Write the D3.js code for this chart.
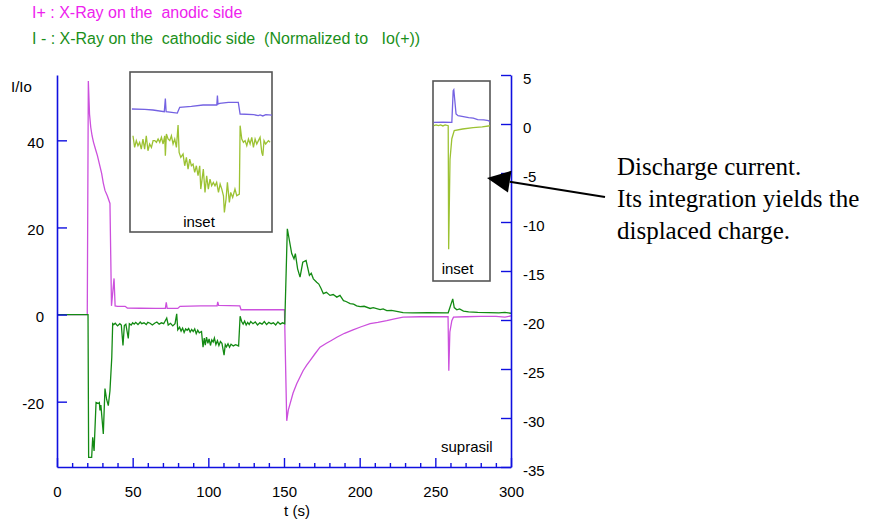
<!DOCTYPE html>
<html>
<head>
<meta charset="utf-8">
<script src="https://cdn.jsdelivr.net/npm/d3@7"></script>
<style>
  html, body { margin: 0; padding: 0; background: #fff; }
  svg { display: block; font-family: "Liberation Sans", Arial, sans-serif; }
</style>
</head>
<body>
<svg id="chart" width="879" height="522"></svg>
<script>
// --- data: [t (s), value] ---
const plusMain = [[0,0],[20,0],[20.7,53.6],[21.5,46],[22.3,43],[23.2,41],[24.1,39.6],[25.4,38],[26.7,36.5],[28,34.6],[29.5,32.4],[30.6,30.2],[31.7,28.5],[33.3,27.2],[35,25.5],[36,2],[37.7,8.3],[38.4,2],[40,1.9],[45,1.9],[46.5,1.5],[55,1.45],[65,1.4],[71.6,1.45],[72.2,2.8],[72.8,1.45],[79.8,1.4],[81.3,1.9],[95,2.0],[105.8,2.0],[106.2,2.9],[106.8,2.1],[120.8,2.0],[121.6,1.1],[150.3,1.1],[151.8,-24.4],[152.8,-22],[154,-20.5],[156,-18],[158.4,-15.9],[160.5,-14.4],[162.6,-12.9],[165,-11.6],[167.2,-10.6],[170.5,-9],[173.8,-7.5],[178,-6.6],[181,-6],[184.9,-5.2],[190,-4.3],[195.6,-3.5],[201,-2.8],[206.9,-2.1],[212,-1.8],[217.9,-1.4],[223,-1.0],[228.7,-0.6],[240,-0.5],[258.4,-0.5],[258.9,-12.9],[259.6,-4],[260.9,-1.4],[262,-0.6],[270,-0.5],[280,-0.4],[290,-0.4],[296,-0.6],[300,-0.3]];

const minusMain = [[0,0],[20.5,0],[20.9,-32.8],[22.9,-32.8],[23.6,-28.2],[24.5,-31.3],[25.8,-20.2],[27.2,-20.4],[28,-20.2],[28.4,-22],[29,-20.8],[30.6,-27.4],[31.7,-17],[32.8,-19.5],[33.9,-20.9],[35,-17.5],[36.2,-9.8],[36.8,-2.1],[37.5,-2.3],[38.5,-2.0],[40,-2.6],[41.5,-2.1],[42.5,-2.4],[43.6,-7.1],[44.5,-2.5],[45.5,-2.2],[47.1,-5.5],[47.8,-2.1],[49,-2.4],[50,-1.9],[51,-2.2],[52,-1.8],[53.5,-2.3],[55,-1.7],[56,-2.1],[57.5,-1.9],[59,-2.3],[60,-1.8],[61.5,-2.0],[63,-2.4],[64.5,-2.0],[66,-1.7],[67.5,-2.2],[69,-1.9],[70.5,-2.1],[72.5,-0.8],[73.5,-2.4],[75,-2.0],[76.5,-2.6],[78,-2.1],[79.1,0.15],[79.8,-3.5],[81,-2.9],[82,-3.8],[83,-3.1],[84,-4.1],[85,-3.3],[86,-3.6],[87,-3.2],[88,-4.0],[89,-3.4],[90,-3.9],[91,-3.3],[92,-4.4],[93,-3.6],[94,-4.2],[95.5,-3.9],[96.5,-7.5],[97.3,-5.4],[98,-7.0],[98.8,-5.2],[99.7,-6.6],[100.5,-5.6],[101.4,-7.1],[102.3,-5.8],[103.2,-6.3],[104,-5.4],[105,-6.9],[106,-6.0],[107,-7.1],[108,-6.2],[109,-6.6],[110.4,-9.3],[111.2,-6.9],[112,-7.4],[113,-6.7],[114,-7.5],[115,-6.8],[116.5,-7.2],[118,-6.9],[120,-7.2],[121,-0.4],[122,-1.6],[123,-2.2],[124,-1.5],[125,-2.4],[126,-1.8],[127,-2.3],[128,-1.6],[129.5,-2.1],[131,-1.7],[132.5,-2.4],[134,-1.9],[135.5,-2.2],[137,-1.6],[138.5,-2.3],[140,-1.8],[141.5,-2.1],[143,-1.9],[144.5,-2.4],[146,-1.7],[147.5,-2.2],[149,-1.9],[150.5,-2.1],[152.2,19.7],[155.1,14],[156.6,12.8],[157.5,14],[159,10.5],[160.6,8.6],[162.4,12],[164.6,12.4],[166.8,9],[168,9.5],[169.4,8.2],[171.6,7.4],[173,7.0],[174.5,6.0],[176,4.8],[178,5.1],[180.4,4.4],[182.5,4.6],[184.9,4.0],[187,4.4],[189.3,3.2],[191,3.0],[193.7,2.5],[196,2.4],[198,2.0],[200.3,1.8],[203,1.9],[206.9,1.4],[209,1.6],[213.5,1.15],[215.5,1.3],[217.9,0.9],[221,0.95],[224.5,0.75],[228.7,0.46],[235,0.4],[245,0.45],[258.5,0.4],[261.5,3.6],[262.5,1.6],[264.2,1.1],[266,1.3],[268.6,0.8],[272,0.6],[278,0.5],[285,0.45],[292,0.4],[296,0.5],[300,0.3]];

// inset 1 (values on right axis)
const inset1Plus = [[49.5,1.53],[58,1.5],[63.4,1.43],[70.9,1.26],[71.6,2.6],[72.1,1.26],[79.5,1.12],[81.1,1.7],[88.8,1.8],[96.5,1.94],[105.6,1.94],[106,2.9],[106.4,2.04],[107.5,2.1],[113.2,2.2],[119.8,2.2],[121,1.02],[130,0.95],[133,0.85],[134.2,0.92],[136,0.82],[138,0.95],[142,0.9]];
const inset1Minus = [[50.2,-1.2],[51.3,-2.39],[52.4,-1.7],[53.5,-2.22],[54.6,-1.87],[55.7,-2.56],[56.8,-1.53],[57.9,-2.56],[59.0,-1.2],[60.1,-2.73],[61.2,-2.04],[62.4,-2.39],[63.5,-1.7],[64.6,-1.7],[65.7,-1.87],[66.8,-1.53],[67.9,-1.87],[69.0,-1.36],[70.1,-2.04],[71.2,-1.2],[71.6,-3.24],[72.3,-1.02],[73.4,-1.53],[74.5,-1.7],[75.6,-1.2],[76.7,-2.04],[77.8,-1.53],[78.9,-2.39],[80.0,-0.11],[80.7,-2.9],[81.8,-3.41],[83.3,-3.07],[84.4,-4.26],[85.5,-3.41],[86.6,-4.6],[87.7,-3.58],[88.8,-4.26],[89.9,-4.09],[91.0,-4.94],[92.1,-4.26],[93.2,-5.28],[94.3,-4.26],[95.0,-6.64],[95.6,-5.96],[96.7,-4.6],[97.8,-6.98],[98.9,-5.28],[100,-6.64],[101.1,-5.62],[102.2,-6.3],[103.3,-5.96],[104.4,-6.3],[105.5,-5.96],[106.7,-6.98],[107.8,-6.13],[108.9,-6.64],[110,-7.32],[110.6,-9.03],[111.7,-7.66],[112.6,-5.96],[113.9,-8.0],[114.8,-6.98],[116.1,-7.5],[117.6,-6.64],[118.8,-7.32],[120.5,-7.15],[121,-0.17],[122.1,-1.53],[123.2,-1.87],[124.3,-1.7],[125.4,-2.22],[126.5,-1.53],[127.6,-2.04],[128.7,-1.36],[129.8,-2.39],[130.9,-1.53],[132,-2.04],[133.1,-1.7],[134.2,-1.36],[135.3,-2.9],[136,-3.24],[136.8,-1.7],[137.9,-2.04],[139.7,-1.7],[140.8,-1.87]];

// inset 2 (values on right axis)
const inset2Plus = [[249,0.16],[255,0.2],[260.9,0.16],[261.8,3.4],[262.2,3.5],[263.7,1.02],[265,0.85],[268.5,0.75],[272,0.65],[275.1,0.6],[278,0.45],[282,0.42],[285.1,0.34],[286.5,0.2]];
const inset2Minus = [[249,-0.17],[250.5,-0.1],[252,-0.17],[253.5,-0.1],[255,-0.2],[256.5,-0.1],[258.5,-0.17],[258.8,-12.77],[259.7,-3.6],[260.9,-1.5],[262.5,-0.68],[268,-0.51],[275,-0.38],[281,-0.3],[286.5,-0.17]];

const leftTicks = [-20, 0, 20, 40];
const rightTicks = [-35, -30, -25, -20, -15, -10, -5, 0, 5];
const xTicks = d3.range(0, 301, 10);

const legendLines = [
  { text: "I+ : X-Ray on the  anodic side", color: "#ee22ee" },
  { text: "I - : X-Ray on the  cathodic side  (Normalized to   Io(+))", color: "#1a8f1a" }
];
const noteLines = ["Discharge current.", "Its integration yields the", "displaced charge."];

// --- chart ---
const svg = d3.select("#chart");
const AXIS = "#1010e0";

const x = d3.scaleLinear().domain([0, 300]).range([57, 511]);
const yL = d3.scaleLinear().domain([-35, 55]).range([467, 75]);
const yR = d3.scaleLinear().domain([-35, 5]).range([467, 75]);

const lineL = d3.line().x(d => x(d[0])).y(d => yL(d[1]));
const lineR = d3.line().x(d => x(d[0])).y(d => yR(d[1]));

// legend
svg.selectAll("text.legend").data(legendLines).enter().append("text")
  .attr("class", "legend")
  .attr("x", 32).attr("y", (d, i) => 18 + i * 26)
  .attr("font-size", 16).attr("fill", d => d.color)
  .style("white-space", "pre").attr("xml:space", "preserve")
  .text(d => d.text);

// main curves
svg.append("path").attr("d", lineL(plusMain))
  .attr("fill", "none").attr("stroke", "#cc50dd").attr("stroke-width", 1.3);
svg.append("path").attr("d", lineL(minusMain))
  .attr("fill", "none").attr("stroke", "#138a13").attr("stroke-width", 1.3);

// insets
const insets = [
  { x0: 130, x1: 272, y0: 72, y1: 232, plus: inset1Plus, minus: inset1Minus, lx: 199, ly: 227 },
  { x0: 433, x1: 490, y0: 81, y1: 281, plus: inset2Plus, minus: inset2Minus, lx: 457.5, ly: 274 }
];
insets.forEach((b, i) => {
  const g = svg.append("g");
  g.append("clipPath").attr("id", "clip" + i).append("rect")
    .attr("x", b.x0).attr("y", b.y0).attr("width", b.x1 - b.x0).attr("height", b.y1 - b.y0);
  g.append("rect").attr("x", b.x0).attr("y", b.y0)
    .attr("width", b.x1 - b.x0).attr("height", b.y1 - b.y0)
    .attr("fill", "#fff").attr("stroke", "#555").attr("stroke-width", 1.6);
  const inner = g.append("g").attr("clip-path", `url(#clip${i})`);
  inner.append("path").attr("d", lineR(b.plus))
    .attr("fill", "none").attr("stroke", "#7462e2").attr("stroke-width", 1.3);
  inner.append("path").attr("d", lineR(b.minus))
    .attr("fill", "none").attr("stroke", "#9cc232").attr("stroke-width", 1.3);
  g.append("text").attr("x", b.lx).attr("y", b.ly).attr("text-anchor", "middle")
    .attr("font-size", 15).text("inset");
});

// axes
function styleAxis(g) {
  g.select(".domain").attr("stroke", AXIS).attr("stroke-width", 1.6);
  g.selectAll(".tick line").attr("stroke", AXIS).attr("stroke-width", 1.4);
  g.selectAll(".tick text").attr("fill", "#000").attr("font-size", 15)
    .attr("font-family", "Liberation Sans, Arial, sans-serif");
}

svg.append("g").attr("transform", "translate(57,0)")
  .call(d3.axisLeft(yL).tickValues(leftTicks).tickSize(-10).tickSizeOuter(0).tickPadding(13)
    .tickFormat(d => String(d)))
  .call(styleAxis)
  .call(g => g.selectAll(".tick text").attr("dy", "0.45em"));

svg.append("g").attr("transform", "translate(511,0)")
  .call(d3.axisRight(yR).tickValues(rightTicks).tickSize(-10).tickSizeOuter(0).tickPadding(12)
    .tickFormat(d => String(d)))
  .call(styleAxis)
  .call(g => g.selectAll(".tick text").attr("dy", "0.55em"));

svg.append("g").attr("transform", "translate(0,467)")
  .call(d3.axisBottom(x).tickValues(xTicks).tickSize(-4).tickSizeOuter(0).tickPadding(19)
    .tickFormat(d => d % 50 === 0 ? String(d) : ""))
  .call(styleAxis)
  .call(g => g.selectAll(".tick line").filter(d => d % 50 === 0).attr("y2", -9));

// axis titles
svg.append("text").attr("x", 11).attr("y", 92).attr("font-size", 15).text("I/Io");
svg.append("text").attr("x", 297).attr("y", 516).attr("text-anchor", "middle")
  .attr("font-size", 15).text("t (s)");
svg.append("text").attr("x", 441).attr("y", 452).attr("font-size", 15).text("suprasil");

// annotation arrow
const tip = [487, 178], tail = [605, 197];
const ang = Math.atan2(tail[1] - tip[1], tail[0] - tip[0]);
const hl = 23, hw = 11;
const bx = tip[0] + hl * Math.cos(ang), by = tip[1] + hl * Math.sin(ang);
const px = -Math.sin(ang), py = Math.cos(ang);
svg.append("line").attr("x1", bx).attr("y1", by).attr("x2", tail[0]).attr("y2", tail[1])
  .attr("stroke", "#000").attr("stroke-width", 2);
svg.append("polygon")
  .attr("points", [tip, [bx + hw * px, by + hw * py], [bx - hw * px, by - hw * py]].map(p => p.join(",")).join(" "))
  .attr("fill", "#000");

svg.selectAll("text.note").data(noteLines).enter().append("text")
  .attr("class", "note")
  .attr("x", 617).attr("y", (d, i) => 175 + i * 32)
  .attr("font-family", "Liberation Serif, Times New Roman, serif")
  .attr("font-size", 25).attr("fill", "#000")
  .text(d => d);
</script>
</body>
</html>
